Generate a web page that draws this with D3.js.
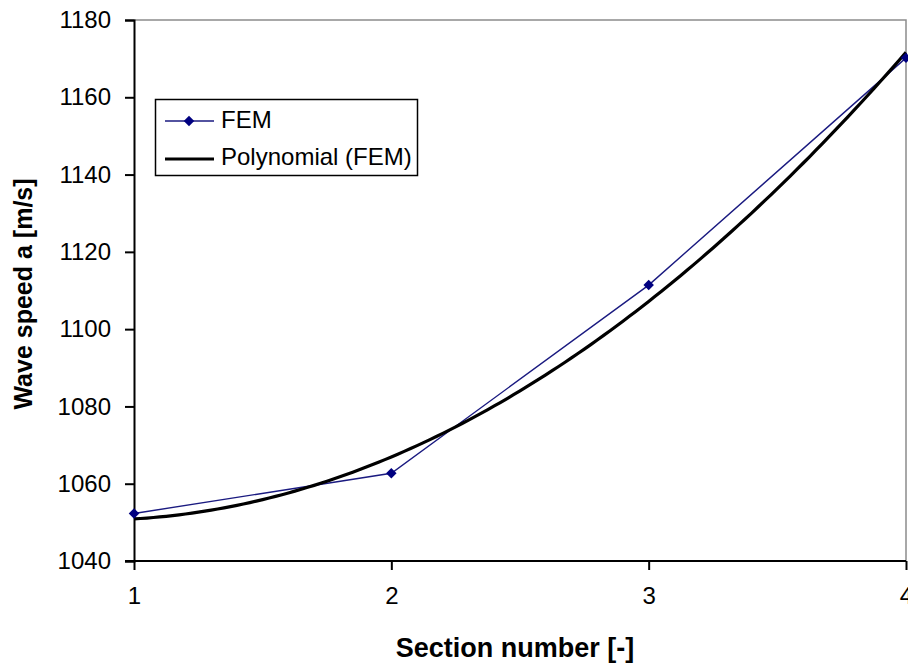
<!DOCTYPE html>
<html>
<head>
<meta charset="utf-8">
<script src="https://cdn.jsdelivr.net/npm/d3@7"></script>
<style>
  html, body { margin: 0; padding: 0; background: #fff; }
  svg { display: block; font-family: "Liberation Sans", Arial, sans-serif; }
</style>
</head>
<body>
<svg id="chart" width="908" height="666"></svg>
<script>
// Section numbers and FEM wave speeds (m/s)
const sections = [1, 2, 3, 4];
const femSpeed = [1052.3, 1062.7, 1111.4, 1170.2];
const yTicks = [1040, 1060, 1080, 1100, 1120, 1140, 1160, 1180];
const xTicks = [1, 2, 3, 4];
const seriesNames = ["FEM", "Polynomial (FEM)"];

const svg = d3.select("#chart");
const margin = { left: 134, right: 2, top: 20, bottom: 105 };
const W = 908, H = 666;

const x = d3.scaleLinear().domain([1, 4]).range([margin.left, W - margin.right]);
const y = d3.scaleLinear().domain([1040, 1180]).range([H - margin.bottom, margin.top]);

// Second-order least-squares trendline fitted to the FEM values
function quadFit(xs, ys) {
  const n = xs.length;
  let s = [0, 0, 0, 0, 0], t = [0, 0, 0];
  for (let i = 0; i < n; i++) {
    for (let k = 0; k < 5; k++) s[k] += Math.pow(xs[i], k);
    for (let k = 0; k < 3; k++) t[k] += ys[i] * Math.pow(xs[i], k);
  }
  const M = [[s[0], s[1], s[2], t[0]], [s[1], s[2], s[3], t[1]], [s[2], s[3], s[4], t[2]]];
  for (let c = 0; c < 3; c++) {
    for (let r = c + 1; r < 3; r++) {
      const f = M[r][c] / M[c][c];
      for (let k = c; k < 4; k++) M[r][k] -= f * M[c][k];
    }
  }
  const b = [0, 0, 0];
  for (let r = 2; r >= 0; r--) {
    let v = M[r][3];
    for (let k = r + 1; k < 3; k++) v -= M[r][k] * b[k];
    b[r] = v / M[r][r];
  }
  return xv => b[0] + b[1] * xv + b[2] * xv * xv;
}
const trend = quadFit(sections, femSpeed);
const trendPts = d3.range(0, 121).map(i => {
  const xv = 1 + 3 * i / 120;
  return [xv, trend(xv)];
});

// Plot-area frame (gray top and right edges)
svg.append("path")
  .attr("d", `M${x(1)},${y(1180)}H${x(4)}V${y(1040)}`)
  .attr("fill", "none").attr("stroke", "#8c8c8c").attr("stroke-width", 1.5);

// Axes
const yAxis = svg.append("g")
  .attr("transform", `translate(${x(1)},0)`)
  .call(d3.axisLeft(y).tickValues(yTicks).tickSize(9).tickPadding(14).tickFormat(d3.format("d")));
const xAxis = svg.append("g")
  .attr("transform", `translate(0,${y(1040)})`)
  .call(d3.axisBottom(x).tickValues(xTicks).tickSize(9).tickPadding(17).tickFormat(d3.format("d")));

[yAxis, xAxis].forEach(g => {
  g.select(".domain").attr("stroke", "#000").attr("stroke-width", 2);
  g.selectAll(".tick line").attr("stroke", "#000").attr("stroke-width", 2);
  g.selectAll(".tick text").attr("fill", "#000")
    .style("font-size", "24px").style("font-family", "'Liberation Sans', Arial, sans-serif");
});
// extend x axis line to meet the 1040 tick
xAxis.select(".domain").attr("d", `M${x(1) - 9},0H${x(4)}`);

const marks = svg.append("g");

// FEM series
marks.append("path")
  .datum(sections.map((s, i) => [s, femSpeed[i]]))
  .attr("d", d3.line().x(d => x(d[0])).y(d => y(d[1])))
  .attr("fill", "none").attr("stroke", "#1a1a80").attr("stroke-width", 1.4);

// Polynomial trendline
marks.append("path")
  .datum(trendPts)
  .attr("d", d3.line().x(d => x(d[0])).y(d => y(d[1])))
  .attr("fill", "none").attr("stroke", "#000").attr("stroke-width", 3.2);

// FEM markers (diamonds)
const diamond = d3.symbol().type(d3.symbolDiamond2).size(70);
marks.selectAll(".fem-pt")
  .data(sections.map((s, i) => [s, femSpeed[i]]))
  .join("path")
  .attr("class", "fem-pt")
  .attr("transform", d => `translate(${x(d[0])},${y(d[1])})`)
  .attr("d", diamond)
  .attr("fill", "#000080");

// Legend
const lg = svg.append("g");
lg.append("rect")
  .attr("x", 155.5).attr("y", 99.5).attr("width", 262).attr("height", 76)
  .attr("fill", "#fff").attr("stroke", "#000").attr("stroke-width", 1.5);
lg.append("line").attr("x1", 165).attr("x2", 214).attr("y1", 121).attr("y2", 121)
  .attr("stroke", "#1a1a80").attr("stroke-width", 1.4);
lg.append("path").attr("transform", "translate(189,121)").attr("d", diamond).attr("fill", "#000080");
lg.append("line").attr("x1", 165).attr("x2", 214).attr("y1", 159).attr("y2", 159)
  .attr("stroke", "#000").attr("stroke-width", 3.2);
lg.append("text").attr("x", 221).attr("y", 128).text(seriesNames[0])
  .style("font-size", "24px").attr("fill", "#000");
lg.append("text").attr("x", 221).attr("y", 165).text(seriesNames[1])
  .style("font-size", "24px").attr("fill", "#000");

// Axis titles
svg.append("text")
  .attr("x", 515).attr("y", 657)
  .attr("text-anchor", "middle")
  .style("font-size", "27px").style("font-weight", "bold")
  .text("Section number [-]");
svg.append("text")
  .attr("transform", "translate(32,294) rotate(-90)")
  .attr("text-anchor", "middle")
  .style("font-size", "25px").style("font-weight", "bold")
  .text("Wave speed a [m/s]");
</script>
</body>
</html>
